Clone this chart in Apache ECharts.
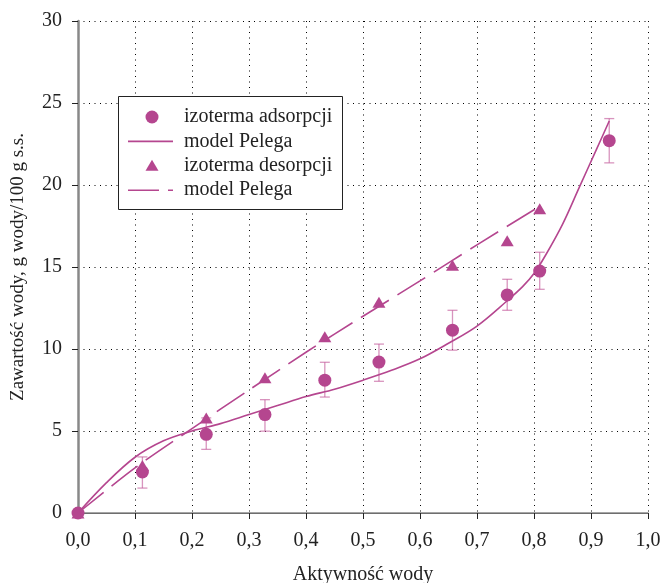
<!DOCTYPE html>
<html>
<head>
<meta charset="utf-8">
<script src="https://cdn.jsdelivr.net/npm/echarts@6/dist/echarts.min.js"></script>
<style>html,body{margin:0;padding:0;background:#fff}#c{width:661px;height:583px}</style>
</head>
<body>
<div id="c"></div>
<script>
// Measured adsorption points (water activity, moisture content) and error limits
const adsX = [0.0, 0.113, 0.225, 0.328, 0.433, 0.528, 0.657, 0.753, 0.810, 0.932];
const adsY = [0.0, 2.5, 4.8, 6.0, 8.1, 9.2, 11.15, 13.3, 14.75, 22.7];
const adsLow = [null, 1.52, 3.88, 4.99, 7.07, 8.03, 9.93, 12.36, 13.64, 21.35];
const adsHigh = [null, 3.42, 5.8, 6.91, 9.19, 10.3, 12.36, 14.25, 15.9, 24.05];
// Measured desorption points
const desX = [0.0, 0.113, 0.225, 0.328, 0.433, 0.528, 0.657, 0.753, 0.810];
const desY = [0.0, 2.9, 5.8, 8.25, 10.75, 12.85, 15.1, 16.6, 18.55];
// Peleg model curve (adsorption)
const pelAdsX = [0, 0.05, 0.1, 0.15, 0.2, 0.25, 0.3, 0.35, 0.4, 0.45, 0.5, 0.55, 0.6, 0.65, 0.7, 0.75, 0.78, 0.8, 0.82, 0.85, 0.88, 0.91, 0.932];
const pelAdsY = [0, 1.85, 3.4, 4.4, 5.0, 5.45, 6.0, 6.55, 7.1, 7.55, 8.1, 8.7, 9.4, 10.35, 11.4, 12.85, 13.8, 14.6, 15.7, 17.6, 19.9, 22.2, 23.9];
// Peleg model curve (desorption)
const pelDesX = [0, 0.1, 0.2, 0.3, 0.4, 0.5, 0.6, 0.7, 0.81];
const pelDesY = [0, 2.75, 5.15, 7.5, 9.8, 12.0, 14.15, 16.35, 18.7];
// Legend labels
const legendNames = ['izoterma adsorpcji', 'model Pelega', 'izoterma desorpcji', 'model Pelega'];

const COL = '#b5468f';
const BAR = 'rgba(195,90,155,0.65)';
const FONT = 'Liberation Serif';
const TXT = '#222';
const zip = (a, b) => a.map((v, i) => [v, b[i]]);
const errData = adsX.map((x, i) => [x, adsLow[i], adsHigh[i]]).filter(d => d[1] !== null);

// Legend box drawn with graphic elements
const LX = 118, LY = 96, LW = 224, LH = 113, ROW = 24.4, Y0 = 117;
const legendGraphic = [
  {type: 'rect', shape: {x: LX + 0.5, y: LY + 0.5, width: LW, height: LH},
   style: {fill: '#fff', stroke: '#222', lineWidth: 1}, z: 100},
  {type: 'circle', shape: {cx: 152, cy: Y0, r: 6.5}, style: {fill: COL}, z: 101},
  {type: 'line', shape: {x1: 128, y1: Y0 + ROW, x2: 173, y2: Y0 + ROW}, style: {stroke: COL, lineWidth: 1.6}, z: 101},
  {type: 'polygon', shape: {points: [[152, Y0 + 2 * ROW - 6], [158.5, Y0 + 2 * ROW + 5], [145.5, Y0 + 2 * ROW + 5]]}, style: {fill: COL}, z: 101},
  {type: 'line', shape: {x1: 128, y1: Y0 + 3 * ROW, x2: 173, y2: Y0 + 3 * ROW}, style: {stroke: COL, lineWidth: 1.6, lineDash: [31, 9]}, z: 101}
].concat(legendNames.map((n, i) => ({
  type: 'text', x: 184, y: Y0 + i * ROW, z: 101,
  style: {text: n, fontFamily: FONT, fontSize: 20, fill: TXT, verticalAlign: 'middle', align: 'left'}
})));

const chart = echarts.init(document.getElementById('c'), null, {renderer: 'canvas'});
chart.setOption({
  animation: false,
  backgroundColor: '#fff',
  grid: {left: 78, right: 13, top: 21, bottom: 70, containLabel: false, outerBoundsMode: 'none'},
  graphic: legendGraphic,
  xAxis: [{
    type: 'value', min: 0, max: 1, interval: 0.1,
    name: 'Aktywność wody', nameLocation: 'middle', nameGap: 52,
    nameTextStyle: {fontFamily: FONT, fontSize: 20, color: TXT},
    axisLine: {show: true, onZero: false, lineStyle: {color: TXT, width: 1}},
    axisTick: {show: true, length: 6, lineStyle: {color: TXT}},
    axisLabel: {fontFamily: FONT, fontSize: 20, color: TXT, margin: 18,
      formatter: v => v.toFixed(1).replace('.', ',')},
    splitLine: {show: true, lineStyle: {color: '#000', width: 1, type: [1, 4.5]}}
  }, {
    type: 'value', min: 0, max: 1, position: 'top',
    axisLine: {show: true, lineStyle: {color: '#888', width: 1.5}},
    axisTick: {show: false}, axisLabel: {show: false}, splitLine: {show: false}
  }],
  yAxis: [{
    type: 'value', min: 0, max: 30, interval: 5,
    name: 'Zawartość wody, g wody/100 g s.s.', nameLocation: 'middle', nameGap: 50,
    nameTextStyle: {fontFamily: FONT, fontSize: 19, color: TXT},
    axisLine: {show: true, onZero: false, lineStyle: {color: TXT, width: 1}},
    axisTick: {show: true, length: 6, lineStyle: {color: TXT}},
    axisLabel: {fontFamily: FONT, fontSize: 20, color: TXT, margin: 16},
    splitLine: {show: true, lineStyle: {color: '#000', width: 1, type: [1, 4.5]}}
  }, {
    type: 'value', min: 0, max: 30, position: 'right',
    axisLine: {show: true, lineStyle: {color: '#888', width: 2.5}},
    axisTick: {show: false}, axisLabel: {show: false}, splitLine: {show: false}
  }],
  series: [
    {
      type: 'custom', name: 'err', z: 2, silent: true,
      renderItem: (params, api) => {
        const x = api.value(0);
        const lo = api.coord([x, api.value(1)]);
        const hi = api.coord([x, api.value(2)]);
        const w = 5;
        const st = {stroke: BAR, lineWidth: 1.3};
        return {type: 'group', children: [
          {type: 'line', shape: {x1: lo[0], y1: lo[1], x2: hi[0], y2: hi[1]}, style: st},
          {type: 'line', shape: {x1: lo[0] - w, y1: lo[1], x2: lo[0] + w, y2: lo[1]}, style: st},
          {type: 'line', shape: {x1: hi[0] - w, y1: hi[1], x2: hi[0] + w, y2: hi[1]}, style: st}
        ]};
      },
      encode: {x: 0, y: [1, 2]},
      data: errData
    },
    {
      name: 'izoterma desorpcji', type: 'scatter', z: 3,
      symbol: 'triangle', symbolSize: [13, 11],
      itemStyle: {color: COL, opacity: 1},
      data: zip(desX, desY)
    },
    {
      name: 'izoterma adsorpcji', type: 'scatter', z: 4,
      symbol: 'circle', symbolSize: 13,
      itemStyle: {color: COL, opacity: 1},
      data: zip(adsX, adsY)
    },
    {
      name: 'model Pelega (ads)', type: 'line', z: 5, smooth: 0.35,
      symbol: 'none', showSymbol: false,
      lineStyle: {color: COL, width: 1.6},
      data: zip(pelAdsX, pelAdsY)
    },
    {
      name: 'model Pelega (des)', type: 'line', z: 5, smooth: 0.3,
      symbol: 'none', showSymbol: false,
      lineStyle: {color: COL, width: 1.6, type: [33, 10]},
      data: zip(pelDesX, pelDesY)
    }
  ]
});
</script>
</body>
</html>
